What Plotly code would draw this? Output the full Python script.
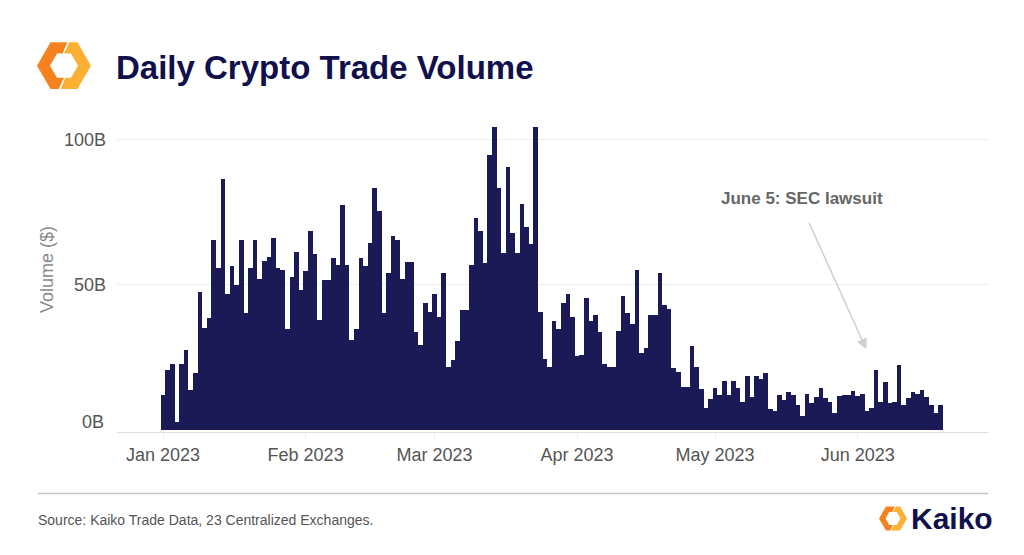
import math
import pandas as pd
import plotly.graph_objects as go

# Daily volume in billions USD
jan_vol = [11.9, 20.5, 22.6, 2.7, 22.6, 27.6, 13.5, 19.4, 47.6, 35.2, 38.5, 65.5, 55.8, 86.5, 46.7, 56.4,
           49.9, 65.5, 40.2, 55.7, 65.5, 51.9, 58.2, 59.6, 66.0, 55.8, 55.1, 34.7, 52.5, 61.1, 48.2]
feb_vol = [54.7, 68.3, 60.5, 37.9, 51.4, 51.4, 59.0, 56.8, 77.4, 56.8, 30.8, 34.6, 59.0, 56.4, 64.4, 83.3,
           75.3, 40.2, 54.1, 66.6, 65.5, 51.9, 57.9, 57.9, 33.6, 29.1, 43.8, 40.6]
mar_vol = [46.6, 38.9, 54.1, 21.7, 24.0, 30.4, 41.1, 41.1, 56.8, 73.1, 68.3, 57.3, 94.7, 104.3, 83.3, 60.7,
           90.4, 67.6, 60.7, 77.9, 69.9, 63.9, 104.3, 40.6, 24.4, 21.7, 37.4, 34.6, 43.8, 46.6, 38.9]
apr_vol = [25.3, 25.9, 45.3, 37.3, 39.5, 33.6, 22.6, 21.7, 21.7, 34.1, 46.0, 40.1, 36.3, 55.1, 26.5, 28.1,
           39.5, 39.5, 54.1, 42.8, 41.7, 21.1, 19.9, 14.6, 14.6, 28.7, 21.7, 14.0, 7.6, 10.7]
may_vol = [14.5, 11.9, 16.8, 11.9, 16.8, 14.5, 9.7, 18.4, 11.3, 18.4, 17.4, 19.4, 7.1, 6.5, 11.9, 10.3,
           13.0, 11.9, 8.6, 4.8, 12.4, 9.2, 11.3, 14.5, 10.8, 9.7, 5.7, 11.6, 11.9, 11.9, 13.4]
jun_vol = [11.6, 12.4, 6.5, 7.6, 20.5, 9.6, 16.3, 9.1, 9.6, 22.3, 8.6, 10.8, 13.0, 12.4, 13.6, 11.3,
           8.6, 5.9, 8.6]

volume = jan_vol + feb_vol + mar_vol + apr_vol + may_vol + jun_vol
dates = pd.date_range("2023-01-01", periods=len(volume), freq="D")

y_tickvals = [0, 50, 100]
y_ticktext = ["0B", "50B", "100B"]

title_text = "Daily Crypto Trade Volume"
source_text = "Source: Kaiko Trade Data, 23 Centralized Exchanges."
event_text = "June 5: SEC lawsuit"

BAR = "#1b1a57"
NAVY = "#10104d"
FONT = "Liberation Sans, Arial, Helvetica, sans-serif"

# page body has an 8px margin; work in screen pixels and shift
OFF = 8
W, H = 1024 - OFF, 555 - OFF
L, R, T, B = 117, 988, 121.5, 432.3  # screen px of plot area


def px_x(x):
    return (x - L) / (R - L)


def px_y(y):
    return (B - y) / (B - T)


def path(points):
    s = "M " + " L ".join(f"{px_x(x):.5f} {px_y(y):.5f}" for x, y in points)
    return s + " Z"


def logo(cx, cy, Ro, Ri):
    def pt(r, ang):
        return (cx + r * math.cos(math.radians(ang)), cy - r * math.sin(math.radians(ang)))
    ot = Ro * math.sin(math.radians(60))
    it = Ri * math.sin(math.radians(60))
    left = [(cx + 0.12 * Ro, cy - ot), pt(Ro, 120), pt(Ro, 180), pt(Ro, 240),
            (cx - 0.2 * Ro, cy + ot), (cx, cy + it), pt(Ri, 240), pt(Ri, 180), pt(Ri, 120),
            (cx - 0.05 * Ro, cy - it)]
    right = [(cx - 0.12 * Ro, cy + ot), pt(Ro, 300), pt(Ro, 0), pt(Ro, 60),
             (cx + 0.2 * Ro, cy - ot), (cx, cy - it), pt(Ri, 60), pt(Ri, 0), pt(Ri, 300),
             (cx + 0.05 * Ro, cy + it)]
    return [
        dict(type="path", xref="paper", yref="paper", path=path(left),
             fillcolor="#f5821f", line=dict(width=0), layer="above"),
        dict(type="path", xref="paper", yref="paper", path=path(right),
             fillcolor="#fbb034", line=dict(width=0), layer="above"),
    ]


fig = go.Figure()
fig.add_trace(go.Bar(x=dates, y=volume, marker=dict(color=BAR, line=dict(width=0)),
                     hovertemplate="%{x|%b %d, %Y}: %{y:.1f}B<extra></extra>"))

shapes = []
shapes += logo(64, 65, 27, 14)
shapes += logo(893, 519, 14, 7.5)
shapes.append(dict(type="line", xref="paper", yref="paper",
                   x0=px_x(38), x1=px_x(988), y0=px_y(494), y1=px_y(494),
                   line=dict(color="#c8c8c8", width=1.5)))

annotations = [
    dict(text=f"<b>{title_text}</b>", xref="paper", yref="paper", x=px_x(114), y=px_y(67),
         xanchor="left", yanchor="middle", showarrow=False,
         font=dict(family=FONT, size=33, color=NAVY)),
    dict(text="Volume ($)", xref="paper", yref="paper", x=px_x(47), y=px_y(270),
         xanchor="center", yanchor="middle", textangle=-90, showarrow=False,
         font=dict(family=FONT, size=18, color="#8a8a8a")),
    dict(text=source_text, xref="paper", yref="paper", x=px_x(36), y=px_y(521),
         xanchor="left", yanchor="middle", showarrow=False,
         font=dict(family=FONT, size=14, color="#555555")),
    dict(text="<b>Kaiko</b>", xref="paper", yref="paper", x=px_x(909), y=px_y(519),
         xanchor="left", yanchor="middle", showarrow=False,
         font=dict(family=FONT, size=30, color=NAVY)),
    dict(text=f"<b>{event_text}</b>", x="2023-05-19 22:00", y=79.7, xref="x", yref="y",
         xanchor="center", yanchor="middle", showarrow=False,
         font=dict(family=FONT, size=17, color="#666666")),
    dict(text="", x="2023-06-02 21:00", y=27.7, xref="x", yref="y",
         ax="2023-05-21 07:00", ay=71.8, axref="x", ayref="y",
         showarrow=True, arrowhead=2, arrowsize=1.4, arrowwidth=1.5, arrowcolor="#cfcfcf"),
    # the zero label sits slightly above the baseline in the original
    dict(text=y_ticktext[0], xref="paper", yref="y", x=px_x(106), y=y_tickvals[0], yshift=8,
         xanchor="right", yanchor="middle", showarrow=False,
         font=dict(family=FONT, size=18, color="#555555")),
]

fig.update_layout(
    width=W, height=H,
    margin=dict(l=L - OFF, r=1024 - R, t=T - OFF, b=555 - B, pad=0),
    paper_bgcolor="white", plot_bgcolor="white",
    bargap=0, showlegend=False,
    font=dict(family=FONT, size=18, color="#555555"),
    shapes=shapes, annotations=annotations,
)
fig.update_xaxes(
    range=["2022-12-22", "2023-06-29 08:00"], type="date",
    tickvals=pd.date_range("2023-01-01", "2023-06-01", freq="MS"), tickformat="%b %Y",
    showgrid=False, showline=True, linecolor="#dddddd", linewidth=1,
    ticks="outside", ticklen=6, tickcolor="#eeeeee",
    tickfont=dict(family=FONT, size=18, color="#555555"),
)
fig.update_yaxes(
    range=[-0.8, 106], tickvals=y_tickvals[1:], ticktext=y_ticktext[1:],
    showgrid=True, gridcolor="#eeeeee", gridwidth=1, zeroline=False,
    ticks="", ticklabelstandoff=10,
    tickfont=dict(family=FONT, size=18, color="#555555"),
)

fig.write_html("out.html")
